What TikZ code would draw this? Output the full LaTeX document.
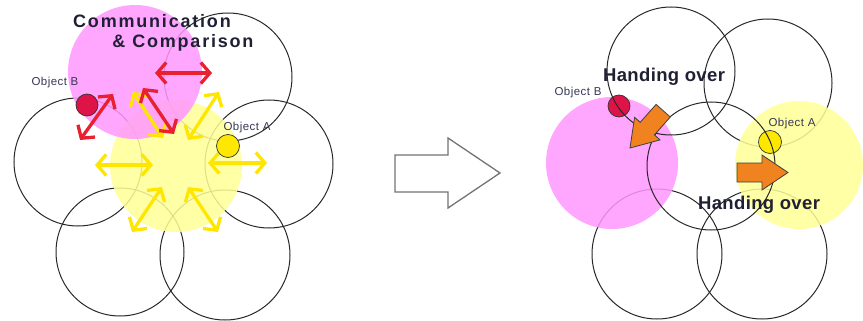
\documentclass[tikz,border=0pt]{standalone}
\usepackage{fontspec}
\setmainfont{Liberation Sans}
\newfontfamily\titlefont[LetterSpace=10]{Liberation Sans}
\newfontfamily\handfont[LetterSpace=2]{Liberation Sans}
\newfontfamily\objfont[LetterSpace=4]{Liberation Sans}
\usetikzlibrary{arrows.meta}
\definecolor{pinkfill}{RGB}{255,150,255}
\definecolor{yelfill}{RGB}{255,255,150}
\definecolor{redarr}{RGB}{232,32,48}
\definecolor{yelarr}{RGB}{255,230,0}
\definecolor{crimson}{RGB}{222,20,72}
\definecolor{objyel}{RGB}{255,232,0}
\definecolor{orangearr}{RGB}{240,130,32}
\definecolor{txtdark}{RGB}{32,32,52}
\definecolor{cellline}{RGB}{40,40,40}
\definecolor{objtxt}{RGB}{55,55,85}
\tikzset{
  cell/.style={draw=cellline, line width=1pt},
  pinkzone/.style={fill=pinkfill, fill opacity=0.85},
  yelzone/.style={fill=yelfill, fill opacity=0.85},
  dbl/.style={line width=3.3pt, {Straight Barb[length=9pt,width=21pt]}-{Straight Barb[length=9pt,width=21pt]}},
  redarrow/.style={dbl, draw=redarr},
  yelarrow/.style={dbl, draw=yelarr},
  objB/.style={circle, draw=black!80, line width=0.7pt, fill=crimson, minimum size=22pt, inner sep=0pt},
  objA/.style={circle, draw=black!80, line width=0.7pt, fill=objyel, minimum size=23pt, inner sep=0pt},
  objlabel/.style={font=\objfont\fontsize{11.5}{13}\selectfont, text=objtxt, inner sep=0pt},
  titletext/.style={font=\titlefont\bfseries\fontsize{18}{20}\selectfont, text=txtdark, inner sep=0pt},
  handtext/.style={font=\handfont\bfseries\fontsize{18.5}{20}\selectfont, text=txtdark, inner sep=0pt},
  blockarrow/.style={draw=black!75, line width=0.8pt, fill=orangearr, line join=miter},
  bigarrow/.style={draw=black!55, line width=1.3pt, fill=white}
}
\begin{document}
\begin{tikzpicture}[x=1pt,y=-1pt]
\useasboundingbox (0,0) rectangle (863,321);
% ---------- left diagram ----------
\draw[cell] (78,162) circle[radius=64pt];
\draw[cell] (228,77) circle[radius=64pt];
\draw[cell] (269,164) circle[radius=64pt];
\draw[cell] (120,252) circle[radius=64pt];
\draw[cell] (225,255) circle[radius=65pt];
\fill[yelzone] (176,166) circle[radius=66pt];
\fill[pinkzone] (135,72) circle[radius=67pt];
% yellow arrows
\coordinate (y1a) at (133,92);  \coordinate (y1b) at (163,138);
\coordinate (y2a) at (188,140); \coordinate (y2b) at (219,92);
\coordinate (y3a) at (95,165);  \coordinate (y3b) at (153,165);
\coordinate (y4a) at (208,163); \coordinate (y4b) at (267,163);
\coordinate (y5a) at (132,232); \coordinate (y5b) at (162,187);
\coordinate (y6a) at (188,187); \coordinate (y6b) at (218,232);
\draw[yelarrow] (y1a) -- (y1b);
\draw[yelarrow] (y2a) -- (y2b);
\draw[yelarrow] (y3a) -- (y3b);
\draw[yelarrow] (y4a) -- (y4b);
\draw[yelarrow] (y5a) -- (y5b);
\draw[yelarrow] (y6a) -- (y6b);
% red arrows
\coordinate (r1a) at (155,73);  \coordinate (r1b) at (212,73);
\coordinate (r2a) at (80,140);  \coordinate (r2b) at (113,94);
\coordinate (r3a) at (143,88);  \coordinate (r3b) at (174,134);
\draw[redarrow] (r1a) -- (r1b);
\draw[redarrow] (r2a) -- (r2b);
\draw[redarrow] (r3a) -- (r3b);
% objects
\node[objB] (lobB) at (87,105) {};
\node[objA] (lobA) at (228,146) {};
\node[objlabel] (llabB) at (55,83) {Object B};
\node[objlabel] (llabA) at (247,128) {Object A};
\node[titletext] (t1) at (152,21) {Communication};
\node[titletext] (t2) at (183,43) {\& Comparison};
% ---------- middle arrow ----------
\draw[bigarrow] (395,155) -- (448,155) -- (448,138) -- (500,173) -- (448,208) -- (448,192) -- (395,192) -- cycle;
% ---------- right diagram ----------
\draw[cell] (768,83) circle[radius=64pt];
\draw[cell] (657,254) circle[radius=65pt];
\draw[cell] (762,254) circle[radius=65pt];
\fill[pinkzone] (612,163) circle[radius=66pt];
\fill[yelzone] (799,165) circle[radius=64pt];
\node[objB] (robB) at (619,106) {};
\node[objA] (robA) at (770,142) {};
\draw[cell] (671,71) circle[radius=64pt];
\draw[cell] (711,166) circle[radius=64pt];
\draw[blockarrow] (656.1,104.4) -- (640.2,122.3) -- (634.6,117.3) -- (630,148) -- (660.0,139.9) -- (654.4,134.9) -- (670.3,117.0) -- cycle;
\draw[blockarrow] (737,163) -- (762,163) -- (762,155) -- (788,172.5) -- (762,190) -- (762,182) -- (737,182) -- cycle;
\node[objlabel] (rlabB) at (578,93) {Object B};
\node[objlabel] (rlabA) at (792,124) {Object A};
\node[handtext] (h1) at (664,77) {Handing over};
\node[handtext] (h2) at (759,205) {Handing over};
\end{tikzpicture}
\end{document}
